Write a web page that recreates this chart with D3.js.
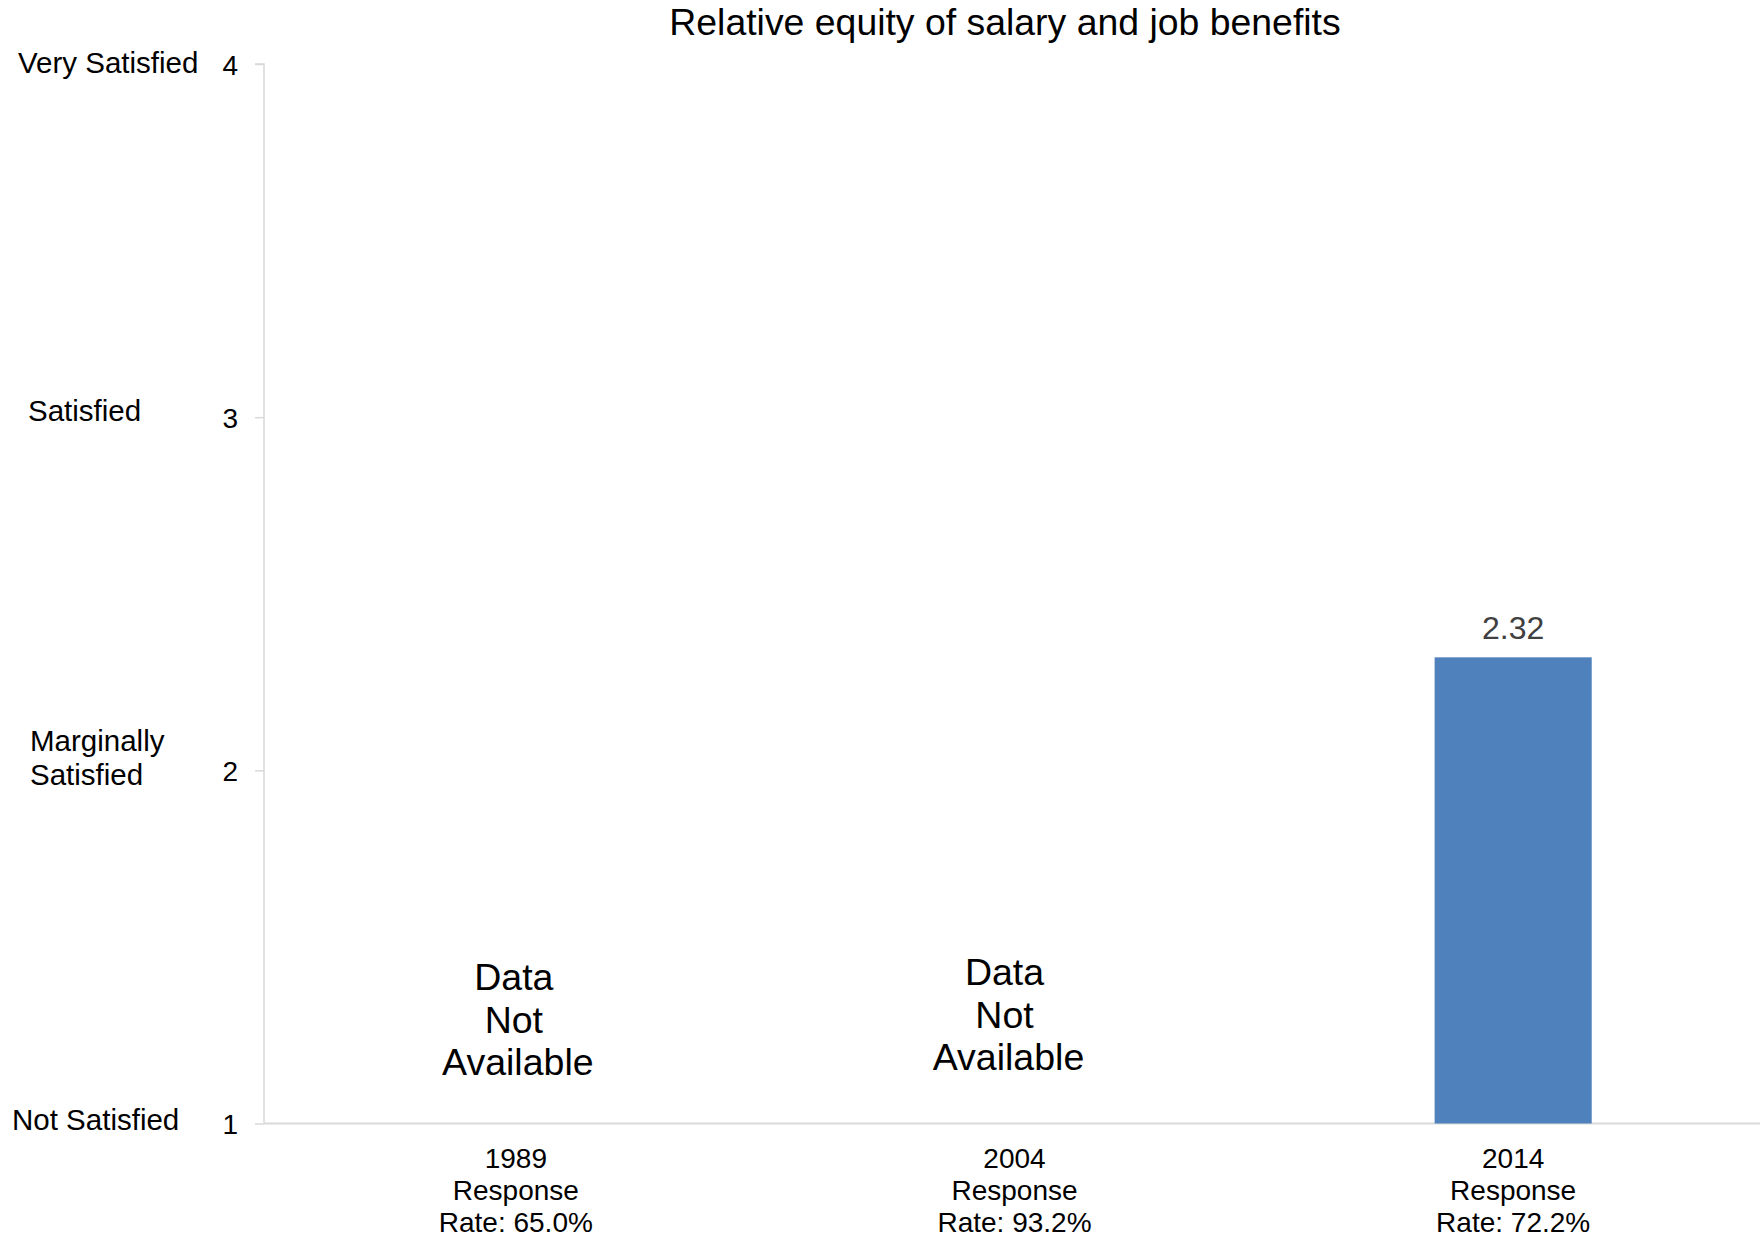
<!DOCTYPE html>
<html>
<head>
<meta charset="utf-8">
<script src="https://cdn.jsdelivr.net/npm/d3@7"></script>
<style>
  body { margin: 0; background: #fff; }
  text { font-family: "Liberation Sans", Arial, sans-serif; }
</style>
</head>
<body>
<div id="chart"></div>
<script>
var years = ['1989', '2004', '2014'];
var rates = ['65.0%', '93.2%', '72.2%'];
var scores = [null, null, 2.32];
var yTicks = [1, 2, 3, 4];
var levelNames = [['Not Satisfied'], ['Marginally', 'Satisfied'], ['Satisfied'], ['Very Satisfied']];
var title = 'Relative equity of salary and job benefits';
var missingText = ['Data', 'Not', 'Available'];

var width = 1760;
var height = 1238;
var marginLeft = 264;
var marginTop = 64;
var marginBottom = 114.5;

// small nudges for the level names, as in the original
var levelX = [12, 30, 28, 18];
var levelDy = [6, 6, 4, 9];
var missingNudge = [{dx: 0, dy: 0}, {dx: -8, dy: -5}];

var svg = d3.select('#chart')
  .append('svg')
  .attr('width', width)
  .attr('height', height)
  .style('background-color', '#ffffff');

var x = d3.scaleBand()
  .domain(years)
  .range([marginLeft + 2.5, width + 2.5])
  .paddingInner(0.685)
  .paddingOuter(0.3425);

var y = d3.scaleLinear()
  .domain([1, 4])
  .range([height - marginBottom, marginTop]);

// title
svg.append('text')
  .attr('x', 1005)
  .attr('y', 35)
  .attr('text-anchor', 'middle')
  .style('font-size', '37.4px')
  .style('fill', '#000')
  .text(title);

// y axis
var yAxis = d3.axisLeft(y)
  .tickValues(yTicks)
  .tickFormat(d3.format('d'))
  .tickSize(9)
  .tickPadding(17);

var yAxisGroup = svg.append('g')
  .attr('transform', 'translate(' + marginLeft + ',0)')
  .call(yAxis);

yAxisGroup.select('.domain')
  .attr('stroke', '#d9d9d9')
  .attr('stroke-width', 1.5)
  .attr('d', 'M-9,' + y(4) + 'H0V' + y(1));
yAxisGroup.selectAll('.tick line').attr('stroke', '#d9d9d9').attr('stroke-width', 1.5);
yAxisGroup.selectAll('.tick text')
  .attr('dy', '0.36em')
  .style('font-size', '28px')
  .style('fill', '#000')
  .style('font-family', '"Liberation Sans", Arial, sans-serif');

// level names on the left
levelNames.forEach(function(lines, i) {
  var t = svg.append('text')
    .attr('x', levelX[i])
    .attr('y', y(yTicks[i]) + levelDy[i] - (lines.length - 1) * 25)
    .style('font-size', '29.5px')
    .style('fill', '#000');
  lines.forEach(function(l, j) {
    t.append('tspan')
      .attr('x', levelX[i])
      .attr('dy', j === 0 ? 0 : 34)
      .text(l);
  });
});

// x axis baseline
svg.append('line')
  .attr('x1', marginLeft)
  .attr('x2', width)
  .attr('y1', y(1))
  .attr('y2', y(1))
  .attr('stroke', '#d9d9d9')
  .attr('stroke-width', 2);

// category labels
years.forEach(function(yr, i) {
  var cx = x(yr) + x.bandwidth() / 2;
  var t = svg.append('text')
    .attr('text-anchor', 'middle')
    .attr('y', y(1) + 44)
    .style('font-size', '28px')
    .style('fill', '#000');
  [yr, 'Response', 'Rate: ' + rates[i]].forEach(function(l, j) {
    t.append('tspan')
      .attr('x', cx)
      .attr('dy', j === 0 ? 0 : 32)
      .text(l);
  });
});

// bars
var data = years.map(function(yr, i) { return {year: yr, score: scores[i]}; });

svg.selectAll('.bar')
  .data(data.filter(function(d) { return d.score != null; }))
  .enter()
  .append('rect')
  .attr('class', 'bar')
  .attr('x', function(d) { return x(d.year); })
  .attr('width', x.bandwidth())
  .attr('y', function(d) { return y(d.score); })
  .attr('height', function(d) { return y(1) - y(d.score); })
  .attr('fill', '#4f81bd');

svg.selectAll('.val')
  .data(data.filter(function(d) { return d.score != null; }))
  .enter()
  .append('text')
  .attr('class', 'val')
  .attr('x', function(d) { return x(d.year) + x.bandwidth() / 2; })
  .attr('y', function(d) { return y(d.score) - 18; })
  .attr('text-anchor', 'middle')
  .style('font-size', '32px')
  .style('fill', '#404040')
  .text(function(d) { return d3.format('.2f')(d.score); });

// missing data notes
data.filter(function(d) { return d.score == null; }).forEach(function(d, k) {
  var cx = x(d.year) + x.bandwidth() / 2 + missingNudge[k].dx;
  var t = svg.append('text')
    .attr('text-anchor', 'middle')
    .attr('y', 990 + missingNudge[k].dy)
    .style('font-size', '37.5px')
    .style('fill', '#000');
  missingText.forEach(function(l, j) {
    t.append('tspan')
      .attr('x', cx + (j === 2 ? 2 : -2))
      .attr('dy', j === 0 ? 0 : 42.5)
      .text(l);
  });
});
</script>
</body>
</html>
